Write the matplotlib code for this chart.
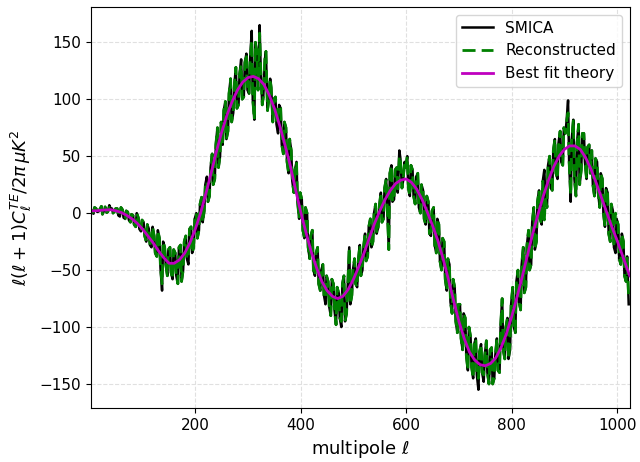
import numpy as np
import matplotlib
matplotlib.use("Agg")
import matplotlib.pyplot as plt

# ---- Best fit theory ----
theory_ell = [2, 10, 20, 30, 40, 50, 60, 70, 80, 90, 100, 110, 120, 130, 140, 150,
              160, 170, 180, 190, 200, 210, 220, 230, 240, 250, 260, 270, 280, 290,
              300, 310, 320, 330, 340, 350, 360, 370, 380, 390, 400, 410, 420, 430,
              440, 450, 460, 470, 480, 490, 500, 510, 520, 530, 540, 550, 560, 570,
              580, 590, 600, 610, 620, 630, 640, 650, 660, 670, 680, 690, 700, 710,
              720, 730, 740, 750, 760, 770, 780, 790, 800, 810, 820, 830, 840, 850,
              860, 870, 880, 890, 900, 910, 920, 930, 940, 950, 960, 970, 980, 990,
              1000, 1010, 1020, 1024]
theory_val = [2.0, 2.0, 2.5, 2.8, 3.0, 2.0, 0.5, -2, -5, -9, -14, -20, -26, -33, -39, -44,
              -44, -41, -35, -26, -14, 0, 17, 35, 54, 71, 86, 98, 108, 115,
              119, 120, 118, 113, 104, 92, 77, 60, 42, 21, 1, -17, -34, -48,
              -60, -68, -73, -75, -73, -67, -58, -47, -35, -22, -9, 2, 12, 20,
              26, 29, 30, 27, 21, 12, 1, -11, -24, -40, -58, -77, -95, -110,
              -122, -129, -133, -134, -132, -127, -118, -106, -91, -74, -56, -37, -18, -1,
              15, 29, 41, 50, 56, 59, 59, 56, 49, 39, 27, 14, 1, -12,
              -24, -37, -50, -55]

# ---- SMICA data, estimated at ell = 2, 7, ..., 1022 ----
smica_ell_a = list(range(2, 1023, 5))
smica_val_a = [
    3.5, -0.5, 4.0, 1.5, 6.0, 2.0, 0.5, 7.0, 4.0, 1.5,
    4, -3, 3, -5, 1, -8, -2, -12, -4, -16,
    -8, -25, -14, -30, -20, -38, -22, -68, -30, -55,
    -30, -58, -35, -62, -28, -50, -20, -45, -12, -30,
    0, -15, 14, 2, 32, 15, 52, 30, 75, 50,
    60, 98, 72, 118, 88, 128, 95, 135, 102, 140,
    105, 160, 82, 140, 165, 95, 135, 90, 118, 80,
    102, 70, 92, 52, 75, 35, 55, 18, 45, -5,
    12, -22, 0, -40, -15, -55, -30, -68, -45, -80,
    -60, -90, -62, -98, -70, -100, -55, -88, -30, -72,
    -40, -65, -28, -50, -18, -38, -5, -25, 8, -12,
    18, -5, 30, -32, 42, 12, 40, 55, 22, 45,
    50, 15, 38, 8, 35, 0, 20, -10, 10, -20,
    5, -35, -10, -50, -25, -68, -45, -88, -65, -105,
    -80, -120, -92, -138, -108, -145, -110, -155, -115, -148,
    -112, -150, -118, -145, -110, -140, -75, -128, -92, -120,
    -65, -105, -50, -85, -30, -65, -15, -45, 5, -25,
    20, -10, 38, 5, 50, 20, 65, 30, 72, 42,
    70, 99, 10, 82, 15, 78, 38, 70, 30, 60,
    55, 15, 45, 5, 30, -12, 18, -25, 2, -35,
    -10, -45, -25, -60, -80]

# ---- SMICA data, estimated at ell = 4, 9, ..., 1019 ----
smica_ell_b = list(range(4, 1020, 5))
smica_val_b = [
    0.5, 5.0, 1.0, 3.5, -1.0, 5.5, 1.0, 4.5, 0.0, 4.0,
    -2, 5, -4, 2, -6, -1, -10, 0, -14, -6,
    -20, -10, -28, -12, -35, -15, -48, -25, -45, -32,
    -52, -32, -55, -30, -60, -25, -40, -14, -35, -5,
    -22, 8, -8, 25, 10, 40, 25, 60, 40, 80,
    90, 65, 105, 80, 112, 92, 122, 100, 132, 108,
    135, 100, 150, 108, 128, 102, 142, 98, 110, 100,
    78, 95, 60, 80, 45, 65, 28, 38, 10, 18,
    -15, 5, -30, -20, -50, -35, -62, -50, -72, -55,
    -82, -58, -85, -65, -92, -62, -95, -65, -80, -50,
    -62, -42, -55, -30, -42, -12, -30, 0, -18, 6,
    -8, 22, 5, 35, 10, 38, 18, 48, 28, 40,
    22, 42, 15, 32, 5, 25, -5, 15, -18, 2,
    -28, -5, -42, -22, -58, -40, -78, -58, -95, -80,
    -110, -88, -125, -100, -135, -115, -142, -122, -140, -125,
    -140, -120, -150, -125, -138, -100, -120, -100, -128, -80,
    -100, -60, -78, -45, -70, -28, -50, -8, -32, 10,
    -5, 28, 12, 42, 22, 55, 35, 62, 45, 75,
    80, 45, 65, 30, 62, 25, 70, 45, 58, 35,
    25, 48, 18, 35, 0, 22, -18, 8, -30, -5,
    -40, -18, -55, -38]

# ---- Reconstructed: same as SMICA except where the two visibly differ ----
recon_changes_ell = [7, 37, 137, 187, 222, 287, 307, 322, 357, 447, 477,
                     587, 647, 737, 747, 797, 862, 907, 912, 997, 1022]
recon_changes_val = [1.0, 5.0, -62, -40, 28, 130, 152, 158, 88, -75, -95,
                     50, -16, -145, -142, -115, -6, 88, 16, 0, -76]

ell_all = np.array(smica_ell_a + smica_ell_b)
val_all = np.array(smica_val_a + smica_val_b, dtype=float)
order = np.argsort(ell_all)
smica_ell = ell_all[order]
smica_val = val_all[order]
recon_val = smica_val.copy()
for e, v in zip(recon_changes_ell, recon_changes_val):
    recon_val[smica_ell == e] = v

fig = plt.figure(figsize=(6.4, 4.62), dpi=100)
ax = fig.add_axes([0.142, 0.117, 0.842, 0.868])

ax.plot(smica_ell, smica_val, color='k', lw=1.8, label='SMICA')
ax.plot(smica_ell, recon_val, color='g', lw=2.0, ls='--', dashes=(4.7, 2.2),
        label='Reconstructed')
ax.plot(theory_ell, theory_val, color='m', lw=2.0, label='Best fit theory')

ax.set_xlim(2, 1024)
ax.set_ylim(-171, 181)
ax.set_xticks([200, 400, 600, 800, 1000])
ax.set_yticks([-150, -100, -50, 0, 50, 100, 150])
ax.tick_params(labelsize=11)
ax.grid(True, ls='--', color='#e0e0e0', lw=0.8)
ax.set_axisbelow(True)

ax.set_xlabel(r'multipole $\ell$', fontsize=13)
ax.set_ylabel(r'$\ell(\ell+1)C_\ell^{TE}/2\pi\,\mu K^2$', fontsize=13)
ax.legend(loc='upper right', fontsize=11, framealpha=0.8)

fig.savefig('out.png', dpi=100)
